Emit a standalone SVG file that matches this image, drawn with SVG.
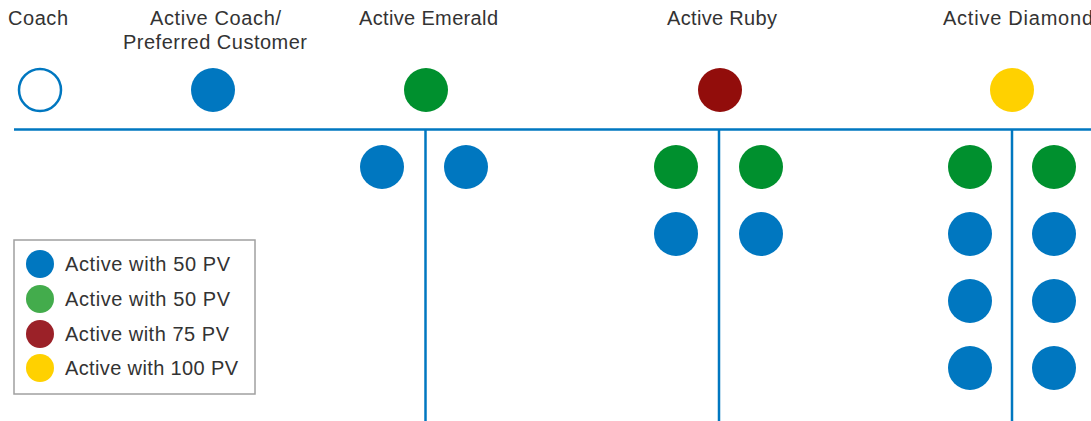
<svg xmlns="http://www.w3.org/2000/svg" width="1091" height="421" viewBox="0 0 1091 421">
<style>
text{font-family:"Liberation Sans",Arial,sans-serif;font-size:20px;fill:#333}
.ln{stroke:#0077c0;stroke-width:2.5;fill:none}
.b{fill:#0077c0}.g{fill:#00902e}.r{fill:#920d0b}.y{fill:#ffd100}
.lg{fill:#43ac4c}.lr{fill:#9b2128}
</style>
<rect width="1091" height="421" fill="#fff"/>
<g id="connectors">
<line class="ln" x1="14" y1="129.5" x2="1091" y2="129.5"/>
<line class="ln" x1="425.5" y1="129.5" x2="425.5" y2="421"/>
<line class="ln" x1="719" y1="129.5" x2="719" y2="421"/>
<line class="ln" x1="1012" y1="129.5" x2="1012" y2="421"/>
</g>
<g id="coach"><text x="8" y="25" textLength="60" lengthAdjust="spacing">Coach</text><circle cx="40" cy="90" r="21" fill="#fff" stroke="#0077c0" stroke-width="2.5"/></g>
<g id="active-coach"><text x="150" y="25" textLength="131" lengthAdjust="spacing">Active Coach/</text><text x="123" y="49" textLength="184" lengthAdjust="spacing">Preferred Customer</text><circle class="b" cx="213" cy="90" r="22"/></g>
<g id="active-emerald"><text x="359" y="25" textLength="139" lengthAdjust="spacing">Active Emerald</text><circle class="g" cx="426" cy="90" r="22"/>
<circle class="b" cx="382" cy="167" r="22"/><circle class="b" cx="466" cy="167" r="22"/></g>
<g id="active-ruby"><text x="667" y="25" textLength="110" lengthAdjust="spacing">Active Ruby</text><circle class="r" cx="720" cy="90" r="22"/>
<circle class="g" cx="676" cy="167" r="22"/><circle class="g" cx="761" cy="167" r="22"/>
<circle class="b" cx="676" cy="234" r="22"/><circle class="b" cx="761" cy="234" r="22"/></g>
<g id="active-diamond"><text x="943" y="25" textLength="150" lengthAdjust="spacing">Active Diamond</text><circle class="y" cx="1012" cy="90" r="22"/>
<circle class="g" cx="970" cy="167" r="22"/><circle class="g" cx="1054" cy="167" r="22"/>
<circle class="b" cx="970" cy="234" r="22"/><circle class="b" cx="1054" cy="234" r="22"/>
<circle class="b" cx="970" cy="301" r="22"/><circle class="b" cx="1054" cy="301" r="22"/>
<circle class="b" cx="970" cy="368" r="22"/><circle class="b" cx="1054" cy="368" r="22"/></g>
<g id="legend">
<rect x="14" y="240" width="241" height="154" fill="#fff" stroke="#a0a0a0" stroke-width="1.5"/>
<circle class="b" cx="40" cy="264" r="14"/><text x="65" y="271" textLength="165" lengthAdjust="spacing">Active with 50 PV</text>
<circle class="lg" cx="40" cy="299" r="14"/><text x="65" y="306" textLength="165" lengthAdjust="spacing">Active with 50 PV</text>
<circle class="lr" cx="40" cy="334" r="14"/><text x="65" y="341" textLength="164" lengthAdjust="spacing">Active with 75 PV</text>
<circle class="y" cx="40" cy="368" r="14"/><text x="65" y="375" textLength="173" lengthAdjust="spacing">Active with 100 PV</text>
</g>
</svg>
